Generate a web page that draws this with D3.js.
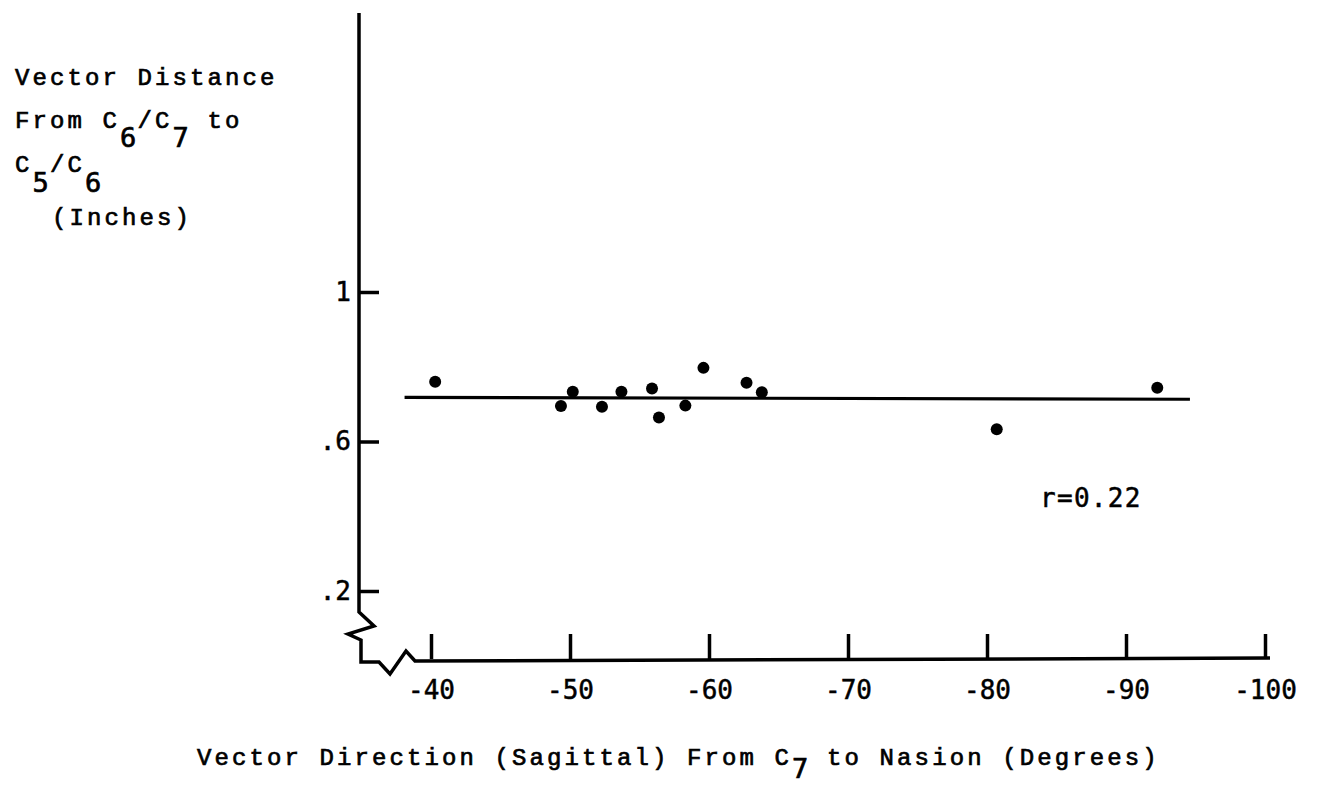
<!DOCTYPE html>
<html>
<head>
<meta charset="utf-8">
<script src="https://cdn.jsdelivr.net/npm/d3@7"></script>
<style>
  body { margin: 0; background: #fff; }
</style>
</head>
<body>
<div id="chart"></div>
<script>
// data
var dirDeg  = [-40.3, -49.35, -50.2, -52.3, -53.7, -55.9, -56.4, -58.3, -59.6, -62.7, -63.8, -80.7, -92.25];
var distIn  = [0.760, 0.695, 0.733, 0.693, 0.733, 0.742, 0.664, 0.696, 0.797, 0.757, 0.732, 0.633, 0.744];

// fitted line ends
var fitX = [-38.1, -94.6];
var fitY = [0.718, 0.713];

var xTicks = [-40, -50, -60, -70, -80, -90, -100];
var yTicks = [1, 0.6, 0.2];
var yTickLabels = ["1", ".6", ".2"];

var rLabel = "r=0.22";

function init()
{
  var w = 1319;
  var h = 787;

  var mono = "'Liberation Mono', 'Courier New', monospace";
  var digits = "'DejaVu Sans Mono', monospace";

  var svg = d3.select("#chart")
              .append("svg")
              .attr("width", w)
              .attr("height", h);

  var x = d3.scaleLinear().domain([-40, -100]).range([431, 1265]);
  var y = d3.scaleLinear().domain([0.2, 1]).range([591, 292]);

  var axisX = 359;   // left axis position
  var baseY = 659;   // bottom axis position

  // axis lines with the break at the corner
  svg.append("path")
     .attr("d", "M" + axisX + ",13 L" + axisX + ",612 L374,626 L348,634 L361,640 L361,662 L379,662 L390,674 L406,651 L415,661 L1270,658")
     .attr("fill", "none")
     .attr("stroke", "#000")
     .attr("stroke-width", 3.5)
     .attr("stroke-linejoin", "miter");

  // left axis ticks (point inward)
  var yAxis = d3.axisLeft(y)
                .tickValues(yTicks)
                .tickSizeInner(-20)
                .tickSizeOuter(0)
                .tickPadding(8)
                .tickFormat(function(d, i){ return yTickLabels[i]; });

  var gy = svg.append("g")
              .attr("transform", "translate(" + axisX + ",0)")
              .call(yAxis);
  gy.select(".domain").remove();
  gy.selectAll(".tick line").attr("stroke", "#000").attr("stroke-width", 3.5);
  gy.selectAll(".tick text")
    .attr("font-family", digits)
    .attr("font-size", 26)
    .attr("fill", "#000")
    .attr("stroke", "#000")
    .attr("stroke-width", 0.5);

  // bottom axis ticks (point up)
  var xAxis = d3.axisBottom(x)
                .tickValues(xTicks)
                .tickSizeInner(-25)
                .tickSizeOuter(0)
                .tickPadding(22)
                .tickFormat(function(d){ return String(d); });

  var gx = svg.append("g")
              .attr("transform", "translate(0," + baseY + ")")
              .call(xAxis);
  gx.select(".domain").remove();
  gx.selectAll(".tick line").attr("stroke", "#000").attr("stroke-width", 3.5);
  gx.selectAll(".tick text")
    .attr("font-family", digits)
    .attr("font-size", 26)
    .attr("fill", "#000")
    .attr("stroke", "#000")
    .attr("stroke-width", 0.5);

  // regression line
  var line = d3.line()
               .x(function(d){ return x(d[0]); })
               .y(function(d){ return y(d[1]); });

  svg.append("path")
     .datum(d3.zip(fitX, fitY))
     .attr("d", line)
     .attr("fill", "none")
     .attr("stroke", "#000")
     .attr("stroke-width", 3.2);

  // points
  svg.selectAll("circle")
     .data(d3.zip(dirDeg, distIn))
     .enter()
     .append("circle")
     .attr("cx", function(d){ return x(d[0]); })
     .attr("cy", function(d){ return y(d[1]); })
     .attr("r", 6)
     .attr("fill", "#000");

  // r label
  svg.append("text")
     .attr("x", 1040)
     .attr("y", 507)
     .attr("font-family", digits)
     .attr("font-size", 26)
     .attr("letter-spacing", 1.3)
     .attr("stroke", "#000")
     .attr("stroke-width", 0.5)
     .text(rLabel);

  // text helper: pieces of [string, isSubscript]
  function typed(xp, yp, pieces, subDrop)
  {
    var t = svg.append("text")
               .attr("x", xp)
               .attr("y", yp)
               .attr("font-family", mono)
               .attr("font-size", 24)
               .attr("letter-spacing", 3.1)
               .attr("fill", "#000")
               .attr("stroke", "#000")
               .attr("stroke-width", 0.7);
    var down = false;
    pieces.forEach(function(p){
      var s = t.append("tspan").text(p[0]);
      if(p[1]){
        s.attr("dy", subDrop)
         .attr("font-family", digits)
         .attr("font-size", 27)
         .attr("letter-spacing", 17.5 - 27 * 0.602);
        down = true;
      } else if(down){
        s.attr("dy", -subDrop);
        down = false;
      }
    });
    return t;
  }

  // y title
  typed(15, 85, [["Vector Distance", false]], 19);
  typed(15, 128, [["From C", false], ["6", true], ["/C", false], ["7", true], [" to", false]], 19);
  typed(15, 172, [["C", false], ["5", true], ["/C", false], ["6", true]], 20);
  typed(52, 225, [["(Inches)", false]], 19);

  // x title
  typed(197, 765, [["Vector Direction (Sagittal) From C", false], ["7", true], [" to Nasion (Degrees)", false]], 13);
}

window.onload = init;
</script>
</body>
</html>
